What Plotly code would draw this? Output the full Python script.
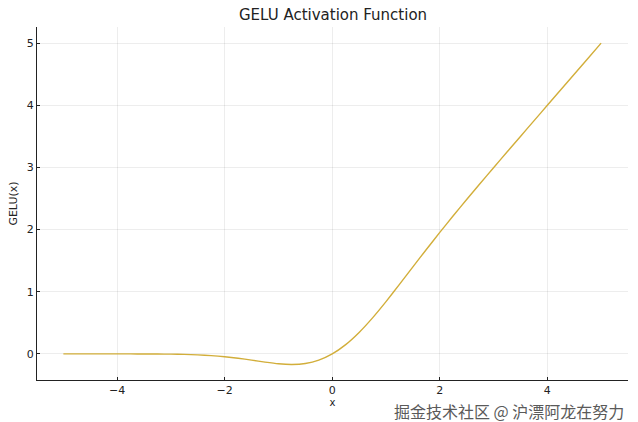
import plotly.graph_objects as go

# GELU curve, values
x_vals = [-5.0, -4.75, -4.5, -4.25, -4.0, -3.75, -3.5, -3.25, -3.0, -2.75,
          -2.5, -2.25, -2.0, -1.75, -1.5, -1.25, -1.0, -0.75, -0.5, -0.25,
          0.0, 0.25, 0.5, 0.75, 1.0, 1.25, 1.5, 1.75, 2.0, 2.25,
          2.5, 2.75, 3.0, 3.25, 3.5, 3.75, 4.0, 4.25, 4.5, 4.75, 5.0]
gelu_vals = [0.0, 0.0, 0.0, 0.0, -0.0001, -0.0003, -0.0008, -0.0019, -0.004, -0.0082,
             -0.0155, -0.0275, -0.0455, -0.0701, -0.1002, -0.1321, -0.1587, -0.17, -0.1543, -0.1003,
             0.0, 0.1497, 0.3457, 0.58, 0.8413, 1.1179, 1.3998, 1.6799, 1.9545, 2.2225,
             2.4845, 2.7418, 2.996, 3.2481, 3.4992, 3.7497, 3.9999, 4.25, 4.5, 4.75, 5.0]

x_ticks = [-4, -2, 0, 2, 4]
y_ticks = [0, 1, 2, 3, 4, 5]

fig = go.Figure()
fig.add_trace(go.Scatter(x=x_vals, y=gelu_vals, mode="lines",
                         line=dict(color="#d2ae3a", width=1.4, shape="spline", smoothing=0.5),
                         showlegend=False))

axis_style = dict(showline=True, linecolor="#222", linewidth=1.2, mirror=False,
                  showgrid=True, gridcolor="rgba(0,0,0,0.07)", gridwidth=1,
                  zeroline=False, ticks="inside", ticklen=3, tickcolor="#222",
                  tickfont=dict(size=11, color="#222"), automargin=False)

fig.update_layout(
    width=638, height=422,
    paper_bgcolor="white", plot_bgcolor="white",
    font=dict(family="DejaVu Sans", color="#222"),
    margin=dict(l=37, r=10, t=27, b=42),
    title=dict(text="GELU Activation Function", x=0.522, xanchor="center",
               y=0.965, yanchor="middle", font=dict(size=15)),
    xaxis=dict(range=[-5.49, 5.5], tickvals=x_ticks,
               title=dict(text="x", font=dict(size=10), standoff=2), **axis_style),
    yaxis=dict(range=[-0.42, 5.26], tickvals=y_ticks,
               title=dict(text="GELU(x)", font=dict(size=11), standoff=6), **axis_style),
)

fig.add_annotation(text="掘金技术社区 @ 沪漂阿龙在努力", xref="paper", yref="paper",
                   x=0.997, y=-0.088, xanchor="right", yanchor="middle", showarrow=False,
                   font=dict(family="Noto Sans CJK SC", size=16, color="#5a5a5a"))

# page body has a default 8px margin; remove it so the figure fills the window
fig.write_html("out.html", config={"displayModeBar": False},
               post_script="document.body.style.margin='0';")
